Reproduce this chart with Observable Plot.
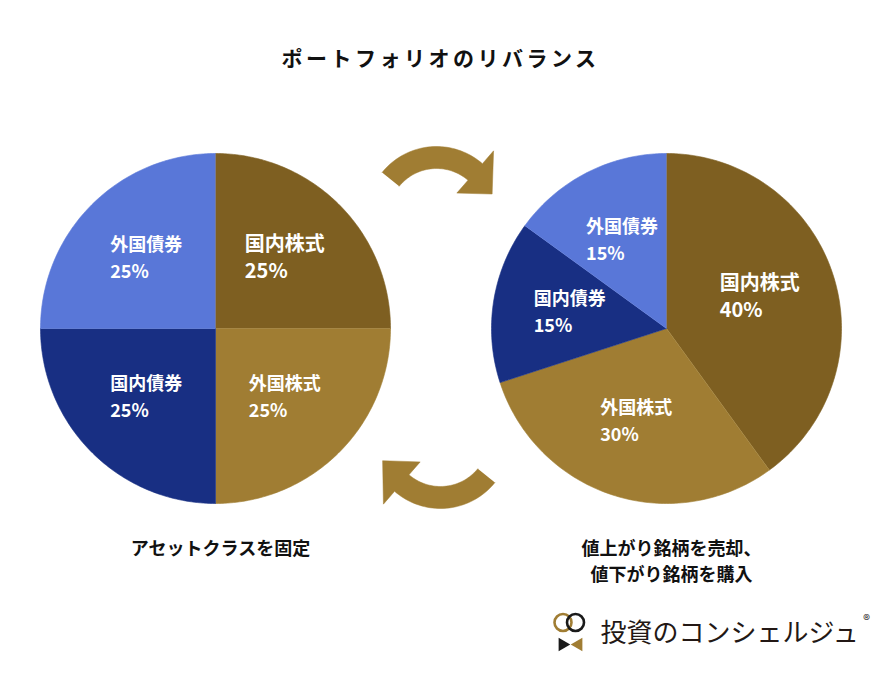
<!DOCTYPE html>
<html><head><meta charset="utf-8">
<script src="https://cdn.jsdelivr.net/npm/d3@7"></script>
<script src="https://cdn.jsdelivr.net/npm/@observablehq/plot@0.6"></script>
<style>
body{margin:0;background:#fff;}
#chart svg{display:block;}
</style></head><body><div id="chart"></div>
<script>
// ---- data ----
const categories = ["国内株式", "外国株式", "国内債券", "外国債券"];
const beforeShares = [25, 25, 25, 25];
const afterShares = [40, 30, 15, 15];
const sliceColors = ["#7e5f21", "#a07d33", "#182f83", "#5977d8"];
const chartTitle = "ポートフォリオのリバランス";
const beforeCaption = "アセットクラスを固定";
const afterCaption = ["値上がり銘柄を売却、", "値下がり銘柄を購入"];
const brandName = "投資のコンシェルジュ";

// ---- layout ----
const W = 880, H = 675, R = 175;
const FONT = '"Noto Sans CJK JP", "Noto Sans", sans-serif';
const arrowColor = "#a07d33";
const pies = [
  {key: "before", cx: 215, cy: 328, shares: beforeShares, caption: beforeCaption},
  {key: "after", cx: 666, cy: 328, shares: afterShares, caption: afterCaption.join("\n")}
];
const rad = d => d * Math.PI / 180;

const pieGen = d3.pie().sort(null).value(d => d.v);
const slicePts = [], labels = [], captions = [];
for (const p of pies) {
  const arcs = pieGen(categories.map((c, i) => ({c, v: p.shares[i]})));
  for (const a of arcs) {
    const id = p.key + "-" + a.data.c;
    slicePts.push({id, cat: a.data.c, x: p.cx, y: p.cy});
    const n = Math.max(2, Math.ceil((a.endAngle - a.startAngle) / rad(1)));
    for (let k = 0; k <= n; k++) {
      const t = a.startAngle + (a.endAngle - a.startAngle) * k / n;
      slicePts.push({id, cat: a.data.c, x: p.cx + R * Math.sin(t), y: p.cy - R * Math.cos(t)});
    }
    const m = (a.startAngle + a.endAngle) / 2;
    const fs = a.data.c === "国内株式" ? 20 : 18;
    const lx = p.cx + 0.56 * R * Math.sin(m), ly = p.cy - 0.56 * R * Math.cos(m) - 8;
    labels.push({name: a.data.c, pct: a.data.v + "%", x: lx - 2 * fs, y: ly, fs});
  }
  captions.push({text: p.caption, x: p.cx + 5, y: p.cy + R + 33});
}

// curved arrows (band + triangular head), built from arc parameters
function arrowPolygon(id, cx, cy, rm, hw, a0, a1, hh, aT, rT) {
  const pts = [];
  const P = (r, a) => pts.push({id, x: cx + r * Math.sin(rad(a)), y: cy - r * Math.cos(rad(a))});
  const steps = 40;
  for (let k = 0; k <= steps; k++) P(rm + hw, a0 + (a1 - a0) * k / steps);
  P(rm + hh, a1); P(rT, aT); P(rm - hh, a1);
  for (let k = steps; k >= 0; k--) P(rm - hw, a0 + (a1 - a0) * k / steps);
  return pts;
}
const arrowPts = [
  ...arrowPolygon("top", 436, 216, 59, 11, -51, 41, 28, 68, 60),
  ...arrowPolygon("bottom", 440, 438, 59, 11, 129, 221, 28, 249, 62)
];

// logo parts
const logoX = 570, logoY = 622;
const rings = [{dx: -7.5, c: arrowColor}, {dx: 5, c: "#1a1a1a"}].map(d => ({x: logoX + d.dx, y: logoY, c: d.c}));
const bow = [{dx: -8, rot: 90, c: "#1a1a1a"}, {dx: 8, rot: -90, c: arrowColor}].map(d => ({x: logoX + d.dx, y: logoY + 22, rot: d.rot, c: d.c}));

const big = labels.filter(d => d.fs === 20), small = labels.filter(d => d.fs === 18);
const labelMarks = [];
for (const [set, fs] of [[big, 20], [small, 18]]) {
  labelMarks.push(
    Plot.text(set, {x: "x", y: "y", text: "name", fill: "white", fontSize: fs, fontWeight: 700, textAnchor: "start", lineAnchor: "bottom"}),
    Plot.text(set, {x: "x", y: d => d.y + 27, text: "pct", fill: "white", fontSize: fs, fontWeight: 700, textAnchor: "start", lineAnchor: "bottom"})
  );
}

const chart = Plot.plot({
  width: W, height: H, margin: 0,
  x: {domain: [0, W], range: [0, W], axis: null},
  y: {domain: [0, H], range: [0, H], axis: null},
  color: {domain: categories, range: sliceColors},
  style: {fontFamily: FONT, background: "#fff", color: "#111"},
  marks: [
    Plot.line(slicePts, {x: "x", y: "y", z: "id", fill: "cat", stroke: "cat", strokeWidth: 0.6}),
    Plot.line(arrowPts, {x: "x", y: "y", z: "id", fill: arrowColor, stroke: arrowColor, strokeWidth: 0.5}),
    ...labelMarks,
    Plot.text([chartTitle], {frameAnchor: "top", dy: 65, text: d => d, fontSize: 21, fontWeight: 700, fill: "#111", lineAnchor: "bottom"}),
    Plot.text(captions, {x: "x", y: "y", text: "text", fontSize: 18, fontWeight: 700, fill: "#111", lineAnchor: "top", lineHeight: 1.45}),
    Plot.dot(rings, {x: "x", y: "y", r: 8.5, stroke: "c", strokeWidth: 2.6, fill: "none"}),
    Plot.dot(bow, {x: "x", y: "y", r: 5, symbol: "triangle", rotate: "rot", fill: "c", stroke: "none"}),
    Plot.text([brandName], {x: () => 600, y: () => 641, text: d => d, fontSize: 26, fontWeight: 400, fill: "#231815", textAnchor: "start", lineAnchor: "bottom"}),
    Plot.text(["®"], {x: () => 866, y: () => 624, text: d => d, fontSize: 14, fill: "#231815", lineAnchor: "bottom"})
  ]
});
d3.select(chart).selectAll("text").filter(function() { return this.textContent === chartTitle; }).attr("letter-spacing", "3.5px");
document.getElementById("chart").append(chart);
</script></body></html>
